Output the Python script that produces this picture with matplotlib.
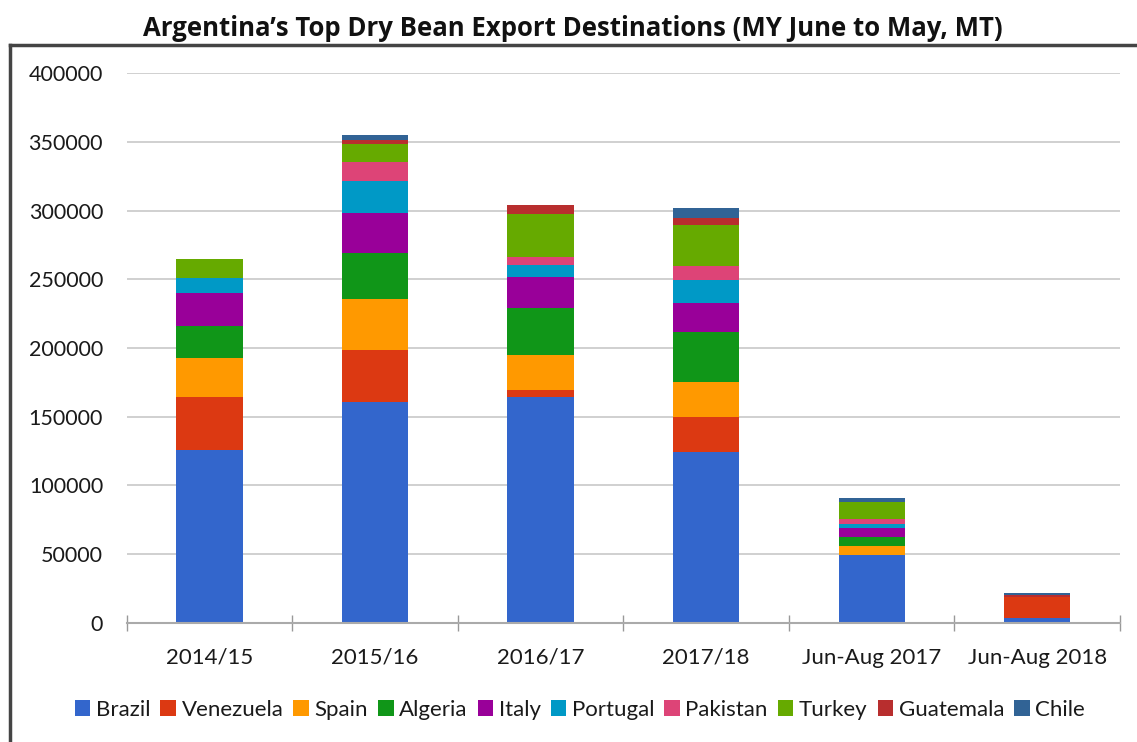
import matplotlib.pyplot as plt
import numpy as np
from matplotlib.lines import Line2D

plt.rcParams['font.family'] = ['Lato', 'DejaVu Sans']

# categorias e valores (MT)
years = ['2014/15', '2015/16', '2016/17', '2017/18', 'Jun-Aug 2017', 'Jun-Aug 2018']

brazil     = [126000, 161000, 164500, 124500, 49500, 3500]
venezuela  = [38000, 37500, 5000, 25500, 0, 15500]
spain      = [29000, 37000, 25400, 25500, 6500, 0]
algeria    = [23000, 33500, 34000, 36400, 6300, 0]
italy      = [24000, 29000, 22500, 20600, 6600, 0]
portugal   = [11000, 23700, 9000, 17000, 3100, 0]
pakistan   = [0, 13800, 6000, 10000, 3400, 0]
turkey     = [14000, 12900, 31000, 30000, 12800, 0]
guatemala  = [0, 3000, 6500, 4800, 0, 1500]
chile      = [0, 3500, 0, 7300, 2500, 1500]

countries = ['Brazil', 'Venezuela', 'Spain', 'Algeria', 'Italy',
             'Portugal', 'Pakistan', 'Turkey', 'Guatemala', 'Chile']
series = [brazil, venezuela, spain, algeria, italy,
          portugal, pakistan, turkey, guatemala, chile]
colors = ['#3366CC', '#DC3912', '#FF9900', '#109618', '#990099',
          '#0099C6', '#DD4477', '#66AA00', '#B82E2E', '#316395']

fig = plt.figure(figsize=(11.37, 7.42), dpi=100)
ax = fig.add_axes([0.1114, 0.1604, 0.8736, 0.7412])

x = np.arange(len(years))
bottom = np.zeros(len(years))
for name, vals, c in zip(countries, series, colors):
    ax.bar(x, vals, width=0.4, bottom=bottom, color=c, label=name, zorder=3)
    bottom += np.array(vals)

ax.set_xlim(-0.5, len(years) - 0.5)
ax.set_ylim(0, 400000)
ax.set_yticks(np.arange(0, 400001, 50000))
ax.yaxis.grid(True, color='#c8c8c8', linewidth=1.2, zorder=0)
ax.set_xticks(x)
ax.set_xticklabels(years)
ax.set_xticks(np.arange(-0.5, len(years), 1.0), minor=True)
ax.tick_params(axis='y', length=0, pad=17, labelsize=15.5, labelcolor='#1a1a1a')
ax.tick_params(axis='x', which='major', length=0, pad=18, labelsize=16, labelcolor='#1a1a1a')
ax.tick_params(axis='x', which='minor', direction='inout', length=12, color='#999999', width=1)

for s in ['top', 'right', 'left']:
    ax.spines[s].set_visible(False)
ax.spines['bottom'].set_color('#aaaaaa')
ax.spines['bottom'].set_linewidth(1.5)
ax.spines['bottom'].set_zorder(4)

# titulo e moldura
fig.text(0.504, 1 - 29 / 742, "Argentina’s Top Dry Bean Export Destinations (MY June to May, MT)",
         ha='center', va='center', fontsize=18.5, fontweight='bold', color='#111111',
         family=['Open Sans', 'DejaVu Sans'])
fig.add_artist(Line2D([10 / 1137, 1.0], [1 - 45 / 742, 1 - 45 / 742], color='#444444', linewidth=2.5))
fig.add_artist(Line2D([10 / 1137, 10 / 1137], [0, 1 - 45 / 742], color='#444444', linewidth=2.5))

fig.legend(loc='center', bbox_to_anchor=(0.51, 1 - 710 / 742), ncol=10, frameon=False,
           fontsize=16, handlelength=0.7, handleheight=0.7, handletextpad=0.25,
           columnspacing=0.45, labelcolor='#1a1a1a')

fig.savefig('out.png', dpi=100)
